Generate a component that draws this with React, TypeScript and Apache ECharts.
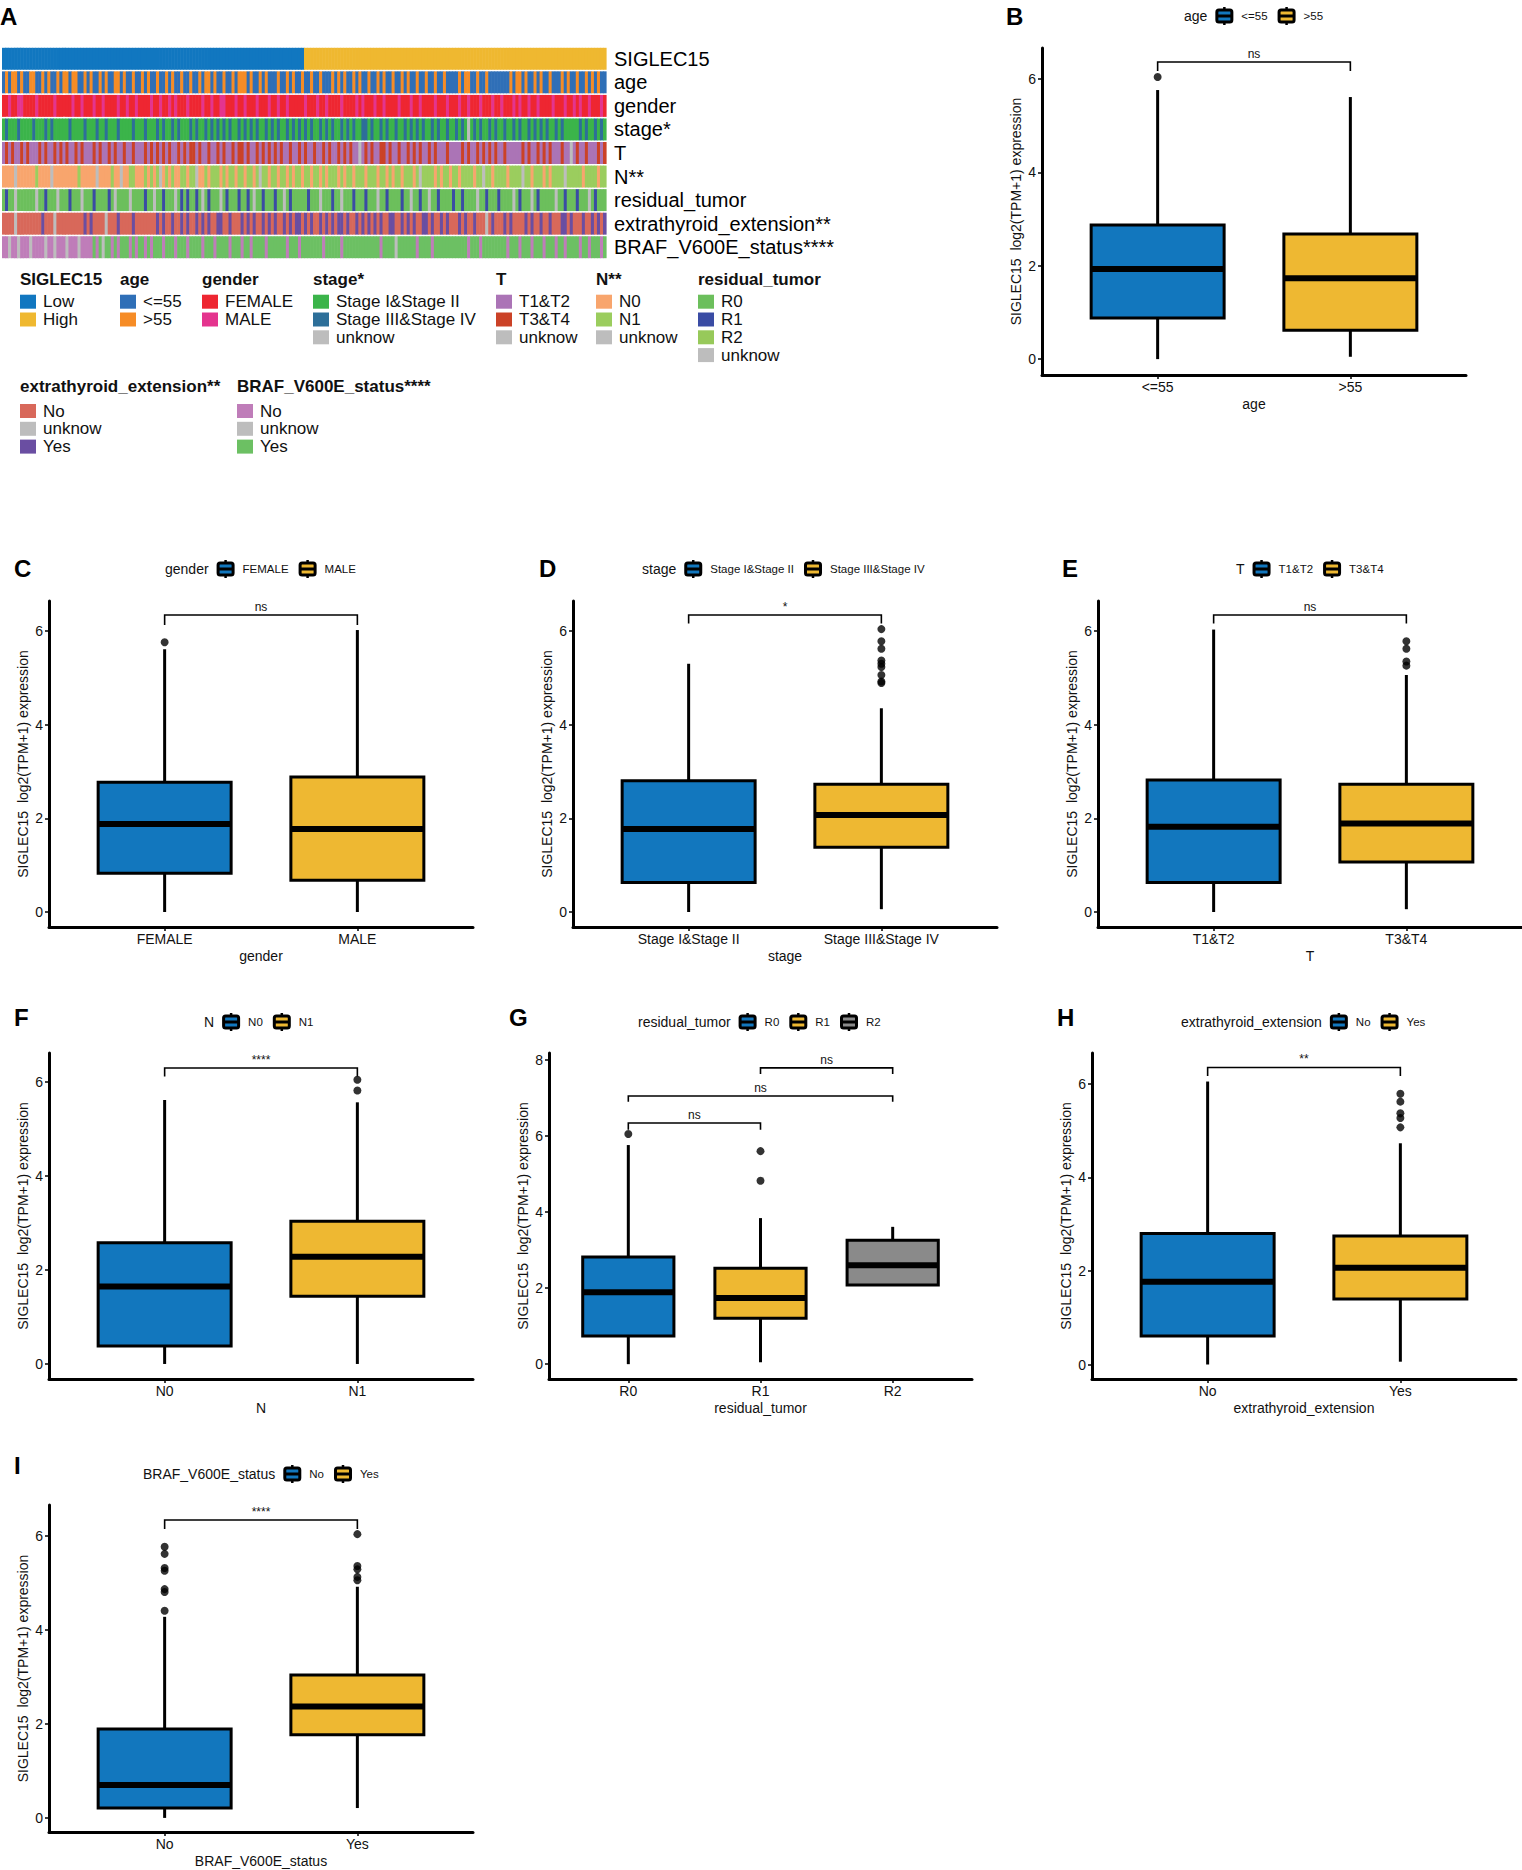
import React, { useEffect, useRef } from "react";
import * as echarts from "echarts";

const FONT = '"Liberation Sans", Arial, Helvetica, sans-serif';
const Y_NAME = "SIGLEC15  log2(TPM+1) expression";
const BLUE = "#1277BE";
const YELLOW = "#EEB832";
const GRAY = "#8A8A8A";
const BOX_W = 0.69;

// ---------- Panel A: annotation heatmap (one character per column block) ----------
const hmRowNames = ["SIGLEC15", "age", "gender", "stage*", "T", "N**", "residual_tumor", "extrathyroid_extension**", "BRAF_V600E_status****"];
const hmSIGLEC15 = ["0000000000", "0000000000", "0000000000", "0000000000", "0000000000", "0000000000", "0000000000", "0000000000", "0000000000", "0000000000", "1111111111", "1111111111", "1111111111", "1111111111", "1111111111", "1111111111", "1111111111", "1111111111", "1111111111", "1111111111"];
const hmAge = ["0101101001", "1001010010", "1101100101", "0010100110", "1001001010", "0100101001", "0010010110", "1001001011", "1010010100", "0100101001", "0010010001", "0101001010", "0100101001", "0010100100", "1001001000", "0101100100", "1000000010", "1101001010", "0100010100", "1001010100"];
const hmGender = ["0010011000", "0100000100", "0001001000", "1001000010", "0100100001", "0010010100", "0100001001", "0011000100", "1000100010", "0100100000", "1000100100", "0010000101", "0001001000", "0100010010", "0001000100", "0100100010", "0010010001", "0100100100", "0010001001", "0100100010"];
const hmStage = ["0100010000", "1000101000", "0010000100", "0100100010", "0001000100", "0101001010", "0010100101", "0101010010", "1010100101", "0100101010", "1010010101", "0010101001", "1010010100", "1001010101", "0010100100", "1010201010", "0101001001", "0100101010", "1001010000", "0101001010"];
const hmT = ["0101001010", "0010100101", "0100101000", "1010010100", "1001000101", "0101010010", "1011010010", "0101001011", "0100101010", "1010010010", "1001001010", "0101010020", "1010011010", "0100101010", "0101000100", "0010100101", "0101001000", "0010100101", "0100010020", "1001000101"];
const hmN = ["0000200000", "0100002000", "0000010000", "0200001002", "0011000101", "0120101001", "1011200101", "1101011011", "0110121101", "1011010110", "1101101011", "1010110111", "0111011010", "1101110121", "1110101101", "1011110112", "1101111011", "1121101110", "1011112111", "1101111011"];
const hmResidual = ["0100300000", "0300100030", "0010003000", "1000010300", "0030000100", "3001000301", "0100103010", "0030100010", "0103001000", "1003010000", "0100030001", "0030001000", "1000300100", "0010030010", "0300100001", "0010000300", "1000100003", "0100030100", "0003001000", "1000301000"];
const hmExtra = ["0000100000", "0002000100", "0000000202", "0000100020", "0002000000", "0202002002", "0200202020", "0220020002", "0202002020", "2002020220", "2020020202", "0220200202", "0202020022", "0020202002", "2020020200", "0202002000", "1020002020", "0002020020", "0200022020", "0020020202"];
const hmBRAF = ["0010010001", "0000100100", "0100010000", "2021220202", "2202022020", "2220222022", "2022220222", "0222202220", "2202222022", "2222022202", "2222220222", "2202222222", "2222202222", "1222222022", "2202222222", "2222022202", "2222222022", "2022202220", "2220220222", "2022022202"];
const hmRows = [hmSIGLEC15, hmAge, hmGender, hmStage, hmT, hmN, hmResidual, hmExtra, hmBRAF].map((r) => r.join(""));

const hmRowColors = [
  ["#1177C0", "#EFB830"],
  ["#2F6FB7", "#F68C26"],
  ["#EE2631", "#E4348E"],
  ["#3BB44A", "#2D6F99", "#BDBDBD"],
  ["#AB74B6", "#CB4227", "#BDBDBD"],
  ["#F8A56D", "#9BCD5E", "#BDBDBD"],
  ["#6CBF5C", "#3A4CA4", "#97C95A", "#BDBDBD"],
  ["#D8685A", "#BDBDBD", "#6A4EA2"],
  ["#BF7DB9", "#BDBDBD", "#6CC063"],
];
const hmLegendTitles = ["SIGLEC15", "age", "gender", "stage*", "T", "N**", "residual_tumor", "extrathyroid_extension**", "BRAF_V600E_status****"];
const hmLegendLabels = [
  ["Low", "High"],
  ["<=55", ">55"],
  ["FEMALE", "MALE"],
  ["Stage I&Stage II", "Stage III&Stage IV", "unknow"],
  ["T1&T2", "T3&T4", "unknow"],
  ["N0", "N1", "unknow"],
  ["R0", "R1", "R2", "unknow"],
  ["No", "unknow", "Yes"],
  ["No", "unknow", "Yes"],
];

// ---------- Box plot panels: [min, Q1, median, Q3, max] ----------
const ageCats = ["<=55", ">55"];
const ageStats = [[0, 0.88, 1.93, 2.87, 5.76], [0.05, 0.62, 1.73, 2.68, 5.61]];
const ageOut = [[6.04], []];
const ageSig = [[1, 2, 6.36, 6.17]];
const ageSigLabels = ["ns"];

const genderCats = ["FEMALE", "MALE"];
const genderStats = [[0, 0.83, 1.88, 2.77, 5.61], [0, 0.68, 1.77, 2.88, 6.02]];
const genderOut = [[5.76], []];
const genderSig = [[1, 2, 6.34, 6.13]];
const genderSigLabels = ["ns"];

const stageCats = ["Stage I&Stage II", "Stage III&Stage IV"];
const stageStats = [[0, 0.63, 1.77, 2.8, 5.3], [0.06, 1.38, 2.07, 2.73, 4.35]];
const stageOut = [[], [6.04, 5.78, 5.62, 5.37, 5.3, 5.23, 5.06, 4.92, 4.89]];
const stageSig = [[1, 2, 6.34, 6.16]];
const stageSigLabels = ["*"];

const tCats = ["T1&T2", "T3&T4"];
const tStats = [[0, 0.63, 1.82, 2.82, 6.03], [0.06, 1.07, 1.89, 2.73, 5.06]];
const tOut = [[], [5.78, 5.62, 5.35, 5.26]];
const tSig = [[1, 2, 6.34, 6.16]];
const tSigLabels = ["ns"];

const nCats = ["N0", "N1"];
const nStats = [[0, 0.38, 1.65, 2.58, 5.62], [0, 1.44, 2.28, 3.04, 5.57]];
const nOut = [[], [5.82, 6.05]];
const nSig = [[1, 2, 6.3, 6.12]];
const nSigLabels = ["****"];

const rCats = ["R0", "R1", "R2"];
const rStats = [[0, 0.74, 1.89, 2.82, 5.76], [0.05, 1.21, 1.74, 2.52, 3.84], [2.08, 2.08, 2.6, 3.26, 3.61]];
const rOut = [[6.05], [5.6, 4.82], []];
const rSig = [[1, 2, 6.34, 6.16], [1, 3, 7.05, 6.9], [2, 3, 7.79, 7.63]];
const rSigLabels = ["ns", "ns", "ns"];

const eCats = ["No", "Yes"];
const eStats = [[0, 0.61, 1.77, 2.8, 6.05], [0.06, 1.4, 2.07, 2.75, 4.73]];
const eOut = [[], [5.79, 5.62, 5.37, 5.27, 5.07]];
const eSig = [[1, 2, 6.35, 6.17]];
const eSigLabels = ["**"];

const bCats = ["No", "Yes"];
const bStats = [[0, 0.21, 0.7, 1.89, 4.28], [0.21, 1.77, 2.37, 3.04, 4.92]];
const bOut = [[5.77, 5.62, 5.32, 5.26, 4.87, 4.81, 4.41], [6.04, 5.36, 5.29, 5.13, 5.06]];
const bSig = [[1, 2, 6.34, 6.15]];
const bSigLabels = ["****"];

const ticks6 = [0, 2, 4, 6];
const ticks8 = [0, 2, 4, 6, 8];

const panels = [
  { letter: "B", lx: 1006, ly: 16, title: "age", tx: 1184, ty: 16, cats: ageCats, stats: ageStats, out: ageOut, sig: ageSig, sigL: ageSigLabels, xName: "age", grid: [1042, 48, 424, 327], y: [-0.34, 6.66], ticks: ticks6, colors: [BLUE, YELLOW] },
  { letter: "C", lx: 14, ly: 568, title: "gender", tx: 165, ty: 569, cats: genderCats, stats: genderStats, out: genderOut, sig: genderSig, sigL: genderSigLabels, xName: "gender", grid: [49, 601, 424, 326], y: [-0.32, 6.64], ticks: ticks6, colors: [BLUE, YELLOW] },
  { letter: "D", lx: 539, ly: 568, title: "stage", tx: 642, ty: 569, cats: stageCats, stats: stageStats, out: stageOut, sig: stageSig, sigL: stageSigLabels, xName: "stage", grid: [573, 601, 424, 326], y: [-0.32, 6.64], ticks: ticks6, colors: [BLUE, YELLOW] },
  { letter: "E", lx: 1062, ly: 568, title: "T", tx: 1236, ty: 569, cats: tCats, stats: tStats, out: tOut, sig: tSig, sigL: tSigLabels, xName: "T", grid: [1098, 601, 424, 326], y: [-0.32, 6.64], ticks: ticks6, colors: [BLUE, YELLOW] },
  { letter: "F", lx: 14, ly: 1017, title: "N", tx: 204, ty: 1022, cats: nCats, stats: nStats, out: nOut, sig: nSig, sigL: nSigLabels, xName: "N", grid: [49, 1053, 424, 326], y: [-0.32, 6.62], ticks: ticks6, colors: [BLUE, YELLOW] },
  { letter: "G", lx: 509, ly: 1017, title: "residual_tumor", tx: 638, ty: 1022, cats: rCats, stats: rStats, out: rOut, sig: rSig, sigL: rSigLabels, xName: "residual_tumor", grid: [549, 1053, 423, 326], y: [-0.39, 8.18], ticks: ticks8, colors: [BLUE, YELLOW, GRAY] },
  { letter: "H", lx: 1057, ly: 1017, title: "extrathyroid_extension", tx: 1181, ty: 1022, cats: eCats, stats: eStats, out: eOut, sig: eSig, sigL: eSigLabels, xName: "extrathyroid_extension", grid: [1092, 1053, 424, 326], y: [-0.31, 6.66], ticks: ticks6, colors: [BLUE, YELLOW] },
  { letter: "I", lx: 14, ly: 1465, title: "BRAF_V600E_status", tx: 143, ty: 1474, cats: bCats, stats: bStats, out: bOut, sig: bSig, sigL: bSigLabels, xName: "BRAF_V600E_status", grid: [49, 1505, 424, 327], y: [-0.3, 6.66], ticks: ticks6, colors: [BLUE, YELLOW] },
];

let measureCtx: CanvasRenderingContext2D | null = null;
function textW(text: string, size: number, bold = false) {
  if (!measureCtx) measureCtx = document.createElement("canvas").getContext("2d");
  if (!measureCtx) return text.length * size * 0.55;
  measureCtx.font = `${bold ? "bold " : ""}${size}px ${FONT}`;
  return measureCtx.measureText(text).width;
}

function txt(text: string, x: number, y: number, size: number, opts: any = {}) {
  return {
    type: "text",
    silent: true,
    style: {
      text,
      x,
      y,
      font: `${opts.bold ? "bold " : ""}${size}px ${FONT}`,
      fill: opts.fill || "#111",
      textAlign: opts.align || "left",
      align: opts.align || "left",
      textVerticalAlign: "middle",
      verticalAlign: "middle",
    },
  };
}

function legendKey(x: number, y: number, color: string) {
  return {
    type: "group",
    silent: true,
    children: [
      { type: "line", shape: { x1: x + 9, y1: y - 9, x2: x + 9, y2: y + 9 }, style: { stroke: "#000", lineWidth: 2.5 } },
      { type: "rect", shape: { x: x + 1.5, y: y - 6, width: 15, height: 12, r: 2 }, style: { fill: color, stroke: "#000", lineWidth: 3 } },
      { type: "line", shape: { x1: x + 1.5, y1: y, x2: x + 16.5, y2: y }, style: { stroke: "#000", lineWidth: 3 } },
    ],
  };
}

function buildOption() {
  const grids: any[] = [];
  const xAxes: any[] = [];
  const yAxes: any[] = [];
  const series: any[] = [];
  const graphics: any[] = [];
  const NCOL = hmRows[0].length;

  // ---- heatmap ----
  grids.push({ left: 2, top: 47, width: 604, height: 212 });
  xAxes.push({ type: "value", gridIndex: 0, min: 0, max: NCOL, show: false, splitLine: { show: false } });
  yAxes.push({
    type: "category", gridIndex: 0, data: hmRowNames, inverse: true, position: "right",
    axisLine: { show: false }, axisTick: { show: false }, splitLine: { show: false },
    axisLabel: { interval: 0, fontSize: 20, fontFamily: FONT, color: "#000", margin: 8 },
  });
  const hmData: number[][] = [];
  hmRows.forEach((s, r) => {
    for (let c = 0; c < s.length; c++) hmData.push([c, r, Number(s[c])]);
  });
  series.push({
    type: "custom", xAxisIndex: 0, yAxisIndex: 0, data: hmData, silent: true,
    renderItem: (params: any, api: any) => {
      const c = api.value(0), r = api.value(1), k = api.value(2);
      const p0 = api.coord([c, r]);
      const p1 = api.coord([c + 1, r]);
      const bh = api.size([0, 1])[1];
      return {
        type: "rect",
        shape: { x: p0[0], y: p0[1] - bh / 2 + 0.8, width: p1[0] - p0[0] + 0.6, height: bh - 1.6 },
        style: { fill: hmRowColors[r][k] },
      };
    },
  });

  // heatmap legend
  graphics.push(txt("A", 0, 16, 24, { bold: true, fill: "#000" }));
  const row1X = [20, 120, 202, 313, 496, 596, 698];
  const row2X = [20, 237];
  const legendPlaces: [number, number, number][] = [
    ...row1X.map((x) => [x, 279, 301.7] as [number, number, number]),
    ...row2X.map((x) => [x, 386.7, 411] as [number, number, number]),
  ];
  hmLegendTitles.forEach((t, g) => {
    const [x, ty, iy] = legendPlaces[g];
    graphics.push(txt(t, x, ty, 17, { bold: true, fill: "#111" }));
    hmLegendLabels[g].forEach((lab, k) => {
      const cy = iy + k * 17.8;
      graphics.push({ type: "rect", silent: true, shape: { x, y: cy - 7, width: 16, height: 14 }, style: { fill: hmRowColors[g][k] } });
      graphics.push(txt(lab, x + 23, cy, 17, { fill: "#111" }));
    });
  });

  // ---- box plot panels ----
  panels.forEach((p, i) => {
    const gi = i + 1;
    const n = p.cats.length;
    const catVals = p.cats.map((_, k) => k + 1);
    grids.push({ left: p.grid[0], top: p.grid[1], width: p.grid[2], height: p.grid[3] });
    xAxes.push({
      type: "value", gridIndex: gi, min: 0.4, max: n + 0.6,
      name: p.xName, nameLocation: "middle", nameGap: 22,
      nameTextStyle: { fontSize: 14, fontFamily: FONT, color: "#111" },
      axisLine: { show: true, onZero: false, lineStyle: { color: "#000", width: 3 } },
      axisTick: { show: true, customValues: catVals, length: 4, lineStyle: { color: "#000", width: 1.5 } },
      axisLabel: {
        show: true, customValues: catVals, margin: 5, fontSize: 14, fontFamily: FONT, color: "#111",
        formatter: (v: number) => (Number.isInteger(v) && p.cats[v - 1] ? p.cats[v - 1] : ""),
      },
      splitLine: { show: false },
    });
    yAxes.push({
      type: "value", gridIndex: gi, min: p.y[0], max: p.y[1],
      name: Y_NAME, nameLocation: "middle", nameGap: 19, nameRotate: 90,
      nameTextStyle: { fontSize: 14, fontFamily: FONT, color: "#111" },
      axisLine: { show: true, onZero: false, lineStyle: { color: "#000", width: 3 } },
      axisTick: { show: true, customValues: p.ticks, length: 4, lineStyle: { color: "#000", width: 1.5 } },
      axisLabel: {
        show: true, customValues: p.ticks, margin: 6, fontSize: 14, fontFamily: FONT, color: "#111",
        formatter: (v: number) => (p.ticks.indexOf(v) >= 0 ? String(v) : ""),
      },
      splitLine: { show: false },
    });

    const colors = p.colors;
    series.push({
      type: "custom", xAxisIndex: gi, yAxisIndex: gi, silent: true,
      data: p.stats.map((s, k) => [k + 1, ...s, k]),
      renderItem: (params: any, api: any) => {
        const x = api.value(0);
        const mn = api.value(1), q1 = api.value(2), md = api.value(3), q3 = api.value(4), mx = api.value(5);
        const ci = api.value(6);
        const hw = BOX_W / 2;
        const tl = api.coord([x - hw, q3]);
        const br = api.coord([x + hw, q1]);
        const pm = api.coord([x, md]);
        const pMin = api.coord([x, mn]);
        const pMax = api.coord([x, mx]);
        const children: any[] = [];
        if (mx > q3) children.push({ type: "line", shape: { x1: pm[0], y1: pMax[1], x2: pm[0], y2: tl[1] }, style: { stroke: "#000", lineWidth: 3 } });
        if (mn < q1) children.push({ type: "line", shape: { x1: pm[0], y1: br[1], x2: pm[0], y2: pMin[1] }, style: { stroke: "#000", lineWidth: 3 } });
        children.push({ type: "rect", shape: { x: tl[0], y: tl[1], width: br[0] - tl[0], height: br[1] - tl[1] }, style: { fill: colors[ci], stroke: "#000", lineWidth: 3 } });
        children.push({ type: "line", shape: { x1: tl[0], y1: pm[1], x2: br[0], y2: pm[1] }, style: { stroke: "#000", lineWidth: 6 } });
        return { type: "group", children };
      },
    });

    const outData: number[][] = [];
    p.out.forEach((arr, k) => arr.forEach((v) => outData.push([k + 1, v])));
    series.push({
      type: "scatter", xAxisIndex: gi, yAxisIndex: gi, data: outData, symbol: "circle", symbolSize: 8,
      itemStyle: { color: "#000" }, silent: true, z: 5,
    });

    const sigLabels = p.sigL;
    series.push({
      type: "custom", xAxisIndex: gi, yAxisIndex: gi, silent: true, z: 6,
      data: p.sig,
      renderItem: (params: any, api: any) => {
        const x1 = api.value(0), x2 = api.value(1), yTop = api.value(2), yLeg = api.value(3);
        const a = api.coord([x1, yLeg]);
        const b = api.coord([x1, yTop]);
        const c = api.coord([x2, yTop]);
        const d = api.coord([x2, yLeg]);
        const label = sigLabels[params.dataIndex];
        return {
          type: "group",
          children: [
            { type: "polyline", shape: { points: [a, b, c, d] }, style: { stroke: "#000", lineWidth: 1.6, fill: "none" } },
            {
              type: "text",
              style: {
                text: label, x: (b[0] + c[0]) / 2, y: b[1] - 2,
                textAlign: "center", align: "center", textVerticalAlign: "bottom", verticalAlign: "bottom",
                font: `12px ${FONT}`, fill: "#111",
              },
            },
          ],
        };
      },
    });

    // letter + legend
    graphics.push(txt(p.letter, p.lx, p.ly, 24, { bold: true, fill: "#000" }));
    let cx = p.tx;
    graphics.push(txt(p.title, cx, p.ty, 14, { fill: "#111" }));
    cx += textW(p.title, 14) + 8;
    p.cats.forEach((cat, k) => {
      graphics.push(legendKey(cx, p.ty, colors[k]));
      cx += 18 + 8;
      graphics.push(txt(cat, cx, p.ty, 11.5, { fill: "#111" }));
      cx += textW(cat, 11.5) + 10;
    });
  });

  return {
    animation: false,
    backgroundColor: "#ffffff",
    textStyle: { fontFamily: FONT },
    grid: grids,
    xAxis: xAxes,
    yAxis: yAxes,
    series,
    graphic: { elements: graphics },
  };
}

export default function App() {
  const ref = useRef<HTMLDivElement>(null);
  useEffect(() => {
    if (!ref.current) return;
    const chart = echarts.init(ref.current, null, { renderer: "svg" });
    chart.setOption(buildOption() as any);
    return () => chart.dispose();
  }, []);
  return (
    <div
      ref={ref}
      style={{ position: "absolute", left: 0, top: 0, width: 1522, height: 1870, background: "#fff" }}
    />
  );
}
